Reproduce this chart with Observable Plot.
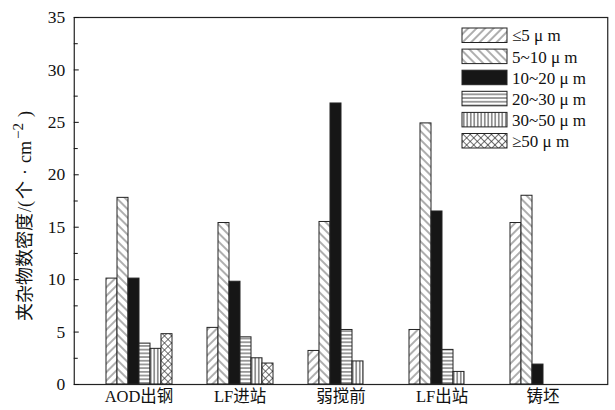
<!DOCTYPE html>
<html><head><meta charset="utf-8">
<script src="https://cdn.jsdelivr.net/npm/d3@7"></script>
<script src="https://cdn.jsdelivr.net/npm/@observablehq/plot@0.6"></script>
<style>
body{margin:0;background:#fff}
#chart{position:relative;width:615px;height:410px}
</style>
</head><body>
<svg width="0" height="0" style="position:absolute">
<defs>
<pattern id="p0" patternUnits="userSpaceOnUse" width="6" height="6" patternTransform="rotate(45)"><rect width="6" height="6" fill="#fff"/><line x1="3" y1="0" x2="3" y2="6" stroke="#333" stroke-width="0.8"/></pattern>
<pattern id="p1" patternUnits="userSpaceOnUse" width="6" height="6" patternTransform="rotate(-45)"><rect width="6" height="6" fill="#fff"/><line x1="3" y1="0" x2="3" y2="6" stroke="#333" stroke-width="0.8"/></pattern>
<pattern id="p2" patternUnits="userSpaceOnUse" width="4" height="4"><rect width="4" height="4" fill="#161616"/></pattern>
<pattern id="p3" patternUnits="userSpaceOnUse" width="4" height="3.7"><rect width="4" height="3.7" fill="#fff"/><line x1="0" y1="1.85" x2="4" y2="1.85" stroke="#222" stroke-width="0.9"/></pattern>
<pattern id="p4" patternUnits="userSpaceOnUse" width="3.5" height="4"><rect width="3.5" height="4" fill="#fff"/><line x1="1.75" y1="0" x2="1.75" y2="4" stroke="#222" stroke-width="0.9"/></pattern>
<pattern id="p5" patternUnits="userSpaceOnUse" width="5" height="5" patternTransform="rotate(45)"><rect width="5" height="5" fill="#fff"/><line x1="2.5" y1="0" x2="2.5" y2="5" stroke="#333" stroke-width="0.7"/><line x1="0" y1="2.5" x2="5" y2="2.5" stroke="#333" stroke-width="0.7"/></pattern>
</defs>
</svg>
<div id="chart"></div>
<script>
// Data
const stages = ["AOD出钢", "LF进站", "弱搅前", "LF出站", "铸坯"];
const sizes = ["≤5 μ m", "5~10 μ m", "10~20 μ m", "20~30 μ m", "30~50 μ m", "≥50 μ m"];
const le5 = [10.1, 5.4, 3.2, 5.2, 15.4];
const s5to10 = [17.8, 15.4, 15.5, 24.9, 18.0];
const s10to20 = [10.1, 9.8, 26.8, 16.5, 1.9];
const s20to30 = [3.9, 4.5, 5.2, 3.3, 0];
const s30to50 = [3.4, 2.5, 2.2, 1.2, 0];
const ge50 = [4.8, 2.0, 0, 0, 0];
const yTicks = [0, 5, 10, 15, 20, 25, 30, 35];
const yMinorTicks = [2.5, 7.5, 12.5, 17.5, 22.5, 27.5, 32.5];
const yLabelParts = ["夹杂物数密度", "/(", "个", "·", "cm", "−2", ")"];

const series = [le5, s5to10, s10to20, s20to30, s30to50, ge50];
const rows = [];
series.forEach((vals, i) => vals.forEach((v, j) => rows.push({stage: stages[j], size: sizes[i], value: v, k: i})));

const font = "'Liberation Serif', 'Noto Sans CJK SC', serif";

const W = 615, H = 410, mL = 72, mR = 6, mT = 17, mB = 26;
const fxOuter = 0.14;
const outerPx = (W - mL - mR) * fxOuter / (stages.length + 2 * fxOuter);

const barMarks = sizes.map((s, i) =>
  Plot.barY(rows.filter(d => d.k === i && d.value > 0), {
    fx: "stage", x: "size", y: "value",
    fill: `url(#p${i})`, stroke: "#222", strokeWidth: 1
  })
);

const plot = Plot.plot({
  width: W,
  height: H,
  marginLeft: mL,
  marginRight: mR,
  marginTop: mT,
  marginBottom: mB,
  style: {fontFamily: font, fontSize: "16px", color: "#111", background: "#fff"},
  fx: {domain: stages, paddingInner: 0, paddingOuter: fxOuter, label: null},
  x: {domain: sizes, paddingInner: 0, paddingOuter: 1.41, axis: null},
  y: {domain: [0, 35], axis: null},
  marks: [
    ...barMarks,
    Plot.frame({stroke: "#222", strokeWidth: 1.2, facet: "super", insetLeft: -outerPx, insetRight: -outerPx}),
    Plot.axisY(yTicks, {anchor: "left", tickSize: -5, tickPadding: 14, fontSize: 17.5, dx: -outerPx, label: null}),
    Plot.axisY(yMinorTicks, {anchor: "left", tickSize: -4, tickFormat: () => "", dx: -outerPx, label: null}),
    Plot.axisFx({anchor: "bottom", tickSize: 0, tickPadding: 6, fontSize: 16.5, label: null})
  ]
});

document.getElementById("chart").appendChild(plot);

const svg = d3.select(plot);
// Y axis title
const yt = svg.append("text")
  .attr("transform", "translate(25,216) rotate(-90)")
  .attr("text-anchor", "middle").attr("dy", "0.35em")
  .attr("font-family", font).attr("font-size", 18).attr("fill", "#111");
yt.append("tspan").text(yLabelParts[0]);
yt.append("tspan").attr("dx", 1).text(yLabelParts[1]);
yt.append("tspan").attr("dx", 2).text(yLabelParts[2]);
yt.append("tspan").attr("dx", 6).text(yLabelParts[3]);
yt.append("tspan").attr("dx", 6).text(yLabelParts[4]);
yt.append("tspan").attr("dx", 2).attr("dy", -8).attr("font-size", 15).text(yLabelParts[5]);
yt.append("tspan").attr("dx", 6).attr("dy", 8).text(yLabelParts[6]);

// Legend inside the frame
const lg = svg.append("g").attr("font-family", font).attr("font-size", 17).attr("text-anchor", "start");
sizes.forEach((s, i) => {
  const y0 = 28 + i * 21.1;
  lg.append("rect").attr("x", 462).attr("y", y0).attr("width", 45).attr("height", 14.5)
    .attr("fill", `url(#p${i})`).attr("stroke", "#222").attr("stroke-width", 1);
  lg.append("text").attr("x", 512).attr("y", y0 + 7.5).attr("dy", "0.35em")
    .attr("fill", "#111").text(s);
});
</script>
</body></html>
